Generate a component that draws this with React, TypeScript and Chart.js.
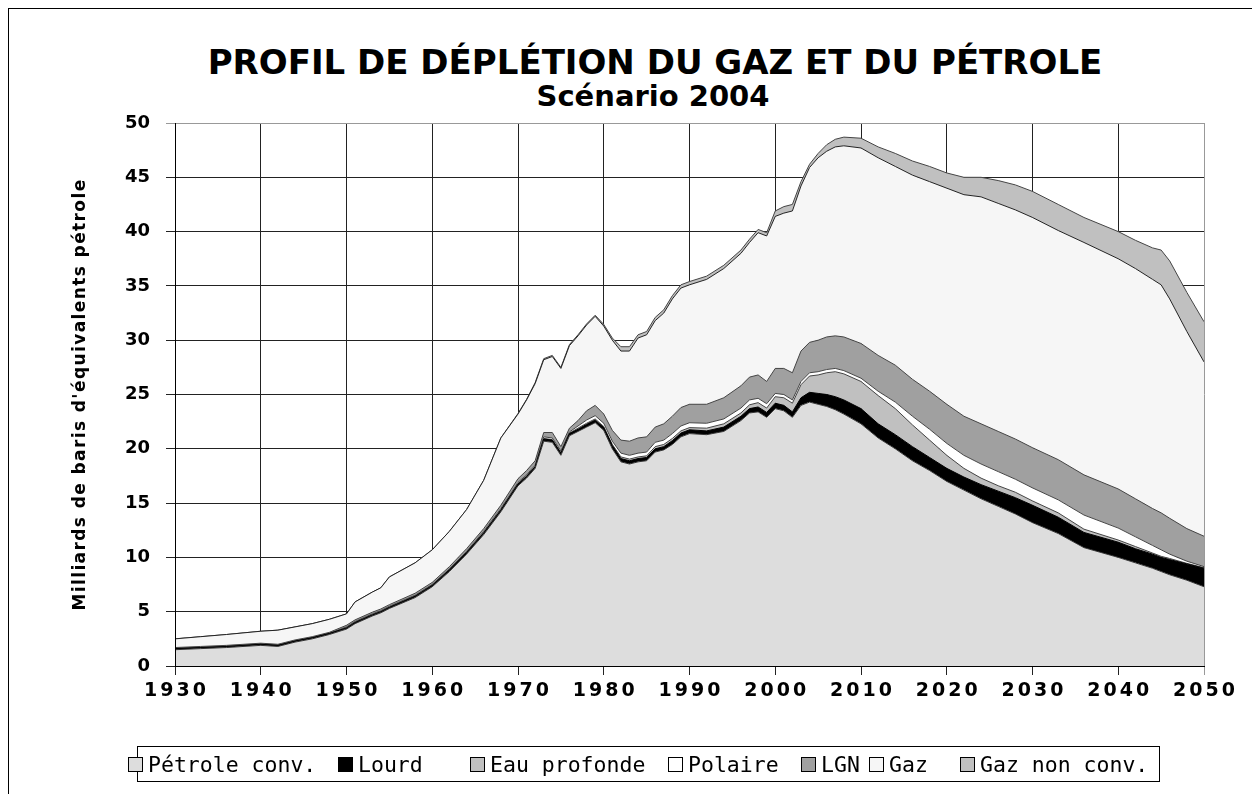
import React, { useEffect, useRef } from "react";
import { Chart, registerables } from "chart.js";

Chart.register(...registerables);

const YEARS = [
  1930, 1933, 1936, 1940, 1942, 1944, 1946, 1948,
  1950, 1951, 1953, 1954, 1955, 1958,
  1960, 1962, 1964, 1966, 1968,
  1970, 1971, 1972, 1973, 1974, 1975, 1976, 1977, 1978, 1979,
  1980, 1981, 1982, 1983, 1984, 1985, 1986, 1987, 1988, 1989, 1990,
  1992, 1994, 1996, 1997, 1998, 1999,
  2000, 2001, 2002, 2003, 2004, 2005, 2006, 2007, 2008,
  2010, 2012, 2014, 2016, 2018, 2020, 2022, 2024, 2026, 2028, 2030,
  2033, 2036, 2040, 2042, 2044, 2045, 2046, 2048, 2050,
];

const PETROLE_CONV = [
  1.5, 1.6, 1.7, 1.9, 1.8, 2.2, 2.5, 2.9,
  3.4, 3.9, 4.6, 4.9, 5.3, 6.3,
  7.3, 8.7, 10.3, 12.1, 14.2,
  16.6, 17.3, 18.2, 20.7, 20.6, 19.4, 21.2, 21.6, 22.0, 22.4,
  21.7, 20.0, 18.8, 18.6, 18.8, 18.9, 19.7, 19.9, 20.4, 21.1, 21.4,
  21.3, 21.6, 22.6, 23.3, 23.4, 22.9,
  23.7, 23.5, 22.9, 24.0, 24.3, 24.1, 23.9, 23.6, 23.2,
  22.3, 21.0, 20.0, 18.9, 18.0, 17.0, 16.2, 15.4, 14.7, 14.0, 13.2,
  12.2, 10.9, 10.0, 9.5, 9.0, 8.7, 8.4, 7.9, 7.3,
];

const LOURD = [
  0.1, 0.1, 0.1, 0.1, 0.1, 0.1, 0.1, 0.1,
  0.1, 0.1, 0.1, 0.1, 0.1, 0.12,
  0.12, 0.15, 0.15, 0.15, 0.15,
  0.15, 0.15, 0.15, 0.2, 0.2, 0.2, 0.2, 0.2, 0.25, 0.25,
  0.25, 0.3, 0.3, 0.3, 0.3, 0.3, 0.3, 0.3, 0.35, 0.35, 0.35,
  0.35, 0.4, 0.4, 0.4, 0.45, 0.45,
  0.5, 0.5, 0.5, 0.7, 0.9, 1.0, 1.1, 1.2, 1.3,
  1.4, 1.3, 1.3, 1.3, 1.2, 1.2, 1.2, 1.3, 1.4, 1.5, 1.6,
  1.5, 1.4, 1.4, 1.3, 1.3, 1.3, 1.4, 1.5, 1.7,
];

const EAU_PROFONDE = [
  0, 0, 0, 0, 0, 0, 0, 0,
  0.05, 0.05, 0.05, 0.05, 0.05, 0.05,
  0.05, 0.05, 0.05, 0.05, 0.05,
  0.05, 0.05, 0.05, 0.05, 0.05, 0.05, 0.05, 0.1, 0.1, 0.1,
  0.1, 0.1, 0.15, 0.15, 0.15, 0.15, 0.2, 0.2, 0.2, 0.2, 0.2,
  0.25, 0.3, 0.3, 0.35, 0.4, 0.4,
  0.6, 0.7, 0.8, 1.2, 1.5, 1.7, 2.0, 2.3, 2.4,
  2.5, 2.6, 2.4, 2.0, 1.6, 1.2, 0.8, 0.6, 0.5, 0.5, 0.4,
  0.4, 0.3, 0.2, 0.2, 0.1, 0.1, 0.1, 0.05, 0.05,
];

const POLAIRE = [
  0, 0, 0, 0, 0, 0, 0, 0,
  0.05, 0.05, 0.05, 0.05, 0.05, 0.05,
  0.05, 0.05, 0.05, 0.1, 0.1,
  0.1, 0.1, 0.1, 0.15, 0.15, 0.15, 0.1, 0.2, 0.3, 0.3,
  0.3, 0.3, 0.35, 0.35, 0.35, 0.35, 0.4, 0.4, 0.45, 0.45, 0.45,
  0.45, 0.45, 0.45, 0.45, 0.4, 0.4,
  0.3, 0.3, 0.3, 0.3, 0.3, 0.3, 0.3, 0.3, 0.3,
  0.3, 0.4, 0.6, 0.8, 1.0, 1.1, 1.2, 1.3, 1.3, 1.2, 1.2,
  1.2, 1.3, 1.1, 0.9, 0.7, 0.6, 0.4, 0.2, 0.1,
];

const LGN = [
  0.1, 0.1, 0.1, 0.1, 0.1, 0.1, 0.1, 0.1,
  0.15, 0.15, 0.15, 0.15, 0.15, 0.18,
  0.18, 0.2, 0.25, 0.25, 0.3,
  0.35, 0.4, 0.4, 0.4, 0.5, 0.4, 0.35, 0.5, 0.85, 0.95,
  0.85, 1.0, 1.2, 1.3, 1.4, 1.4, 1.4, 1.5, 1.6, 1.7, 1.7,
  1.75, 1.95, 2.05, 2.1, 2.15, 2.05,
  2.3, 2.4, 2.5, 2.8, 2.8, 2.9, 3.0, 3.0, 3.1,
  3.2, 3.3, 3.4, 3.4, 3.5, 3.6, 3.6, 3.7, 3.7, 3.7, 3.7,
  3.7, 3.7, 3.6, 3.5, 3.4, 3.4, 3.3, 3.0, 2.8,
];

const GAZ = [
  0.8, 0.9, 1.0, 1.1, 1.3, 1.2, 1.2, 1.2,
  1.05, 1.65, 1.85, 1.95, 2.55, 2.8,
  3.0, 3.25, 3.6, 4.45, 6.2,
  5.95, 6.5, 7.1, 6.7, 7.0, 7.2, 7.6, 7.8, 7.9, 8.2,
  8.1, 8.3, 8.2, 8.3, 9.2, 9.4, 9.8, 10.2, 10.8, 11.0, 11.0,
  11.5, 11.9, 12.2, 12.4, 13.1, 13.4,
  14.0, 14.3, 14.9, 15.2, 16.1, 16.8, 17.1, 17.4, 17.6,
  18.0, 18.2, 18.3, 18.8, 19.3, 19.9, 20.4, 20.9, 21.0, 21.1, 21.2,
  21.1, 21.4, 21.2, 21.2, 21.1, 21.0, 20.2, 18.15, 16.05,
];

const GAZ_NON_CONV = [
  0, 0, 0, 0, 0, 0, 0, 0,
  0, 0, 0, 0, 0, 0,
  0, 0, 0, 0, 0,
  0.05, 0.05, 0.1, 0.1, 0.1, 0.1, 0.1, 0.1, 0.1, 0.1,
  0.15, 0.2, 0.4, 0.4, 0.3, 0.3, 0.3, 0.3, 0.3, 0.3, 0.3,
  0.3, 0.3, 0.3, 0.3, 0.3, 0.3,
  0.5, 0.6, 0.6, 0.4, 0.3, 0.4, 0.6, 0.7, 0.8,
  0.9, 1.0, 1.2, 1.3, 1.4, 1.4, 1.6, 1.8, 2.1, 2.3, 2.4,
  2.4, 2.3, 2.5, 2.6, 2.9, 3.2, 3.5, 3.6, 3.7,
];

const SERIES_NAMES = [
  "Pétrole conv.",
  "Lourd",
  "Eau profonde",
  "Polaire",
  "LGN",
  "Gaz",
  "Gaz non conv.",
];

const X_TICKS = [1930, 1940, 1950, 1960, 1970, 1980, 1990, 2000, 2010, 2020, 2030, 2040, 2050];
const Y_TICKS = [0, 5, 10, 15, 20, 25, 30, 35, 40, 45, 50];

const TITLE = "PROFIL DE DÉPLÉTION DU GAZ ET DU PÉTROLE";
const SUBTITLE = "Scénario 2004";
const Y_TITLE = "Milliards de baris d'équivalents pétrole";

const FILLS = ["#dddddd", "#000000", "#c0c0c0", "#ffffff", "#a0a0a0", "#f6f6f6", "#c0c0c0"];
const LINES = ["#333333", "#000000", "#444444", "#444444", "#444444", "#222222", "#444444"];
const LEGEND_X = [128, 338, 470, 668, 801, 869, 960];

const spacingPlugin = {
  id: "letterSpacingPatch",
  beforeDraw(chart: any) {
    const ctx = chart.ctx as any;
    const xs = chart.scales.x as any;
    const ys = chart.scales.y as any;
    if (xs && !xs.__patched) {
      const orig = xs.drawLabels.bind(xs);
      xs.drawLabels = (area: any) => {
        ctx.save();
        ctx.letterSpacing = "3px";
        ctx.translate(1.5, 0);
        orig(area);
        ctx.restore();
      };
      xs.__patched = true;
    }
    if (ys && !ys.__patched) {
      const origT = ys.drawTitle.bind(ys);
      ys.drawTitle = () => {
        ctx.save();
        ctx.letterSpacing = "1.4px";
        origT();
        ctx.restore();
      };
      ys.__patched = true;
    }
  },
};

export default function App() {
  const canvasRef = useRef<HTMLCanvasElement>(null);

  useEffect(() => {
    const series = [PETROLE_CONV, LOURD, EAU_PROFONDE, POLAIRE, LGN, GAZ, GAZ_NON_CONV];
    const datasets = series.map((vals, i) => ({
      label: SERIES_NAMES[i],
      data: YEARS.map((x, j) => ({ x, y: vals[j] })),
      backgroundColor: FILLS[i],
      borderColor: LINES[i],
      borderWidth: 1,
      pointRadius: 0,
      pointHoverRadius: 0,
      tension: 0,
      fill: i === 0 ? "origin" : "-1",
    }));

    const chart = new Chart(canvasRef.current as HTMLCanvasElement, {
      type: "line",
      data: { datasets: datasets as any },
      plugins: [spacingPlugin],
      options: {
        animation: false,
        responsive: false,
        events: [],
        layout: { padding: { left: 66, right: 48, top: 123, bottom: 68 } },
        plugins: {
          legend: { display: false },
          title: { display: false },
          tooltip: { enabled: false },
        },
        scales: {
          x: {
            type: "linear",
            min: 1930,
            max: 2050,
            afterBuildTicks: (scale: any) => {
              scale.ticks = X_TICKS.map((value) => ({ value }));
            },
            afterFit: (scale: any) => {
              scale.height = 60;
            },
            ticks: {
              autoSkip: false,
              maxRotation: 0,
              padding: 5,
              color: "#000",
              font: { family: "DejaVu Sans", weight: "bold", size: 19 },
              callback: (v: any) => String(v),
            },
            grid: {
              color: (ctx: any) => (ctx.tick && ctx.tick.value === 2050 ? "#999999" : "#222222"),
              lineWidth: 1,
              tickLength: 9,
            },
            border: { color: "#000", width: 1, z: 1 },
          },
          y: {
            type: "linear",
            stacked: true,
            min: 0,
            max: 50,
            afterBuildTicks: (scale: any) => {
              scale.ticks = Y_TICKS.map((value) => ({ value }));
            },
            afterFit: (scale: any) => {
              scale.width = 175 - 66;
            },
            ticks: {
              padding: 16,
              color: "#000",
              font: { family: "DejaVu Sans", weight: "bold", size: 18 },
              callback: (v: any) => String(v),
            },
            grid: {
              color: (ctx: any) => (ctx.tick && ctx.tick.value === 50 ? "#999999" : "#222222"),
              lineWidth: 1,
              tickLength: 9,
            },
            border: { color: "#000", width: 1, z: 1 },
            title: {
              display: true,
              text: Y_TITLE,
              color: "#000",
              font: { family: "DejaVu Sans", weight: "bold", size: 17 },
              padding: { top: 4, bottom: 4 },
            },
          },
        },
      } as any,
    });
    return () => chart.destroy();
  }, []);

  return (
    <div
      style={{
        position: "fixed",
        left: 0,
        top: 0,
        width: 1252,
        height: 794,
        background: "#fff",
        overflow: "hidden",
      }}
    >
      <div style={{ position: "absolute", left: 8, top: 8, right: 0, height: 0, borderTop: "1px solid #000" }} />
      <div style={{ position: "absolute", left: 8, top: 8, bottom: 0, width: 0, borderLeft: "1px solid #000" }} />
      <div
        style={{
          position: "absolute",
          left: 0,
          width: 1310,
          top: 45,
          textAlign: "center",
          fontFamily: "'DejaVu Sans'",
          fontWeight: "bold",
          fontSize: 34,
          lineHeight: "34px",
          color: "#000",
          whiteSpace: "nowrap",
        }}
      >
        {TITLE}
      </div>
      <div
        style={{
          position: "absolute",
          left: 0,
          width: 1306,
          top: 82,
          textAlign: "center",
          fontFamily: "'DejaVu Sans'",
          fontWeight: "bold",
          fontSize: 29,
          lineHeight: "29px",
          color: "#000",
          whiteSpace: "nowrap",
        }}
      >
        {SUBTITLE}
      </div>
      <canvas ref={canvasRef} width={1252} height={794} style={{ position: "absolute", left: 0, top: 0, display: "block" }} />
      <div
        style={{
          position: "absolute",
          left: 137,
          top: 746,
          width: 1023,
          height: 36,
          border: "1px solid #000",
          boxSizing: "border-box",
        }}
      />
      {SERIES_NAMES.map((name, i) => (
        <div
          key={name}
          style={{
            position: "absolute",
            left: LEGEND_X[i],
            top: 751,
            height: 26,
            display: "flex",
            alignItems: "center",
            fontFamily: "'DejaVu Sans Mono'",
            fontSize: 21.5,
            color: "#000",
            whiteSpace: "nowrap",
          }}
        >
          <span
            style={{
              display: "inline-block",
              width: 13,
              height: 13,
              background: FILLS[i],
              border: "1px solid #000",
              marginRight: 5,
            }}
          />
          {name}
        </div>
      ))}
    </div>
  );
}
